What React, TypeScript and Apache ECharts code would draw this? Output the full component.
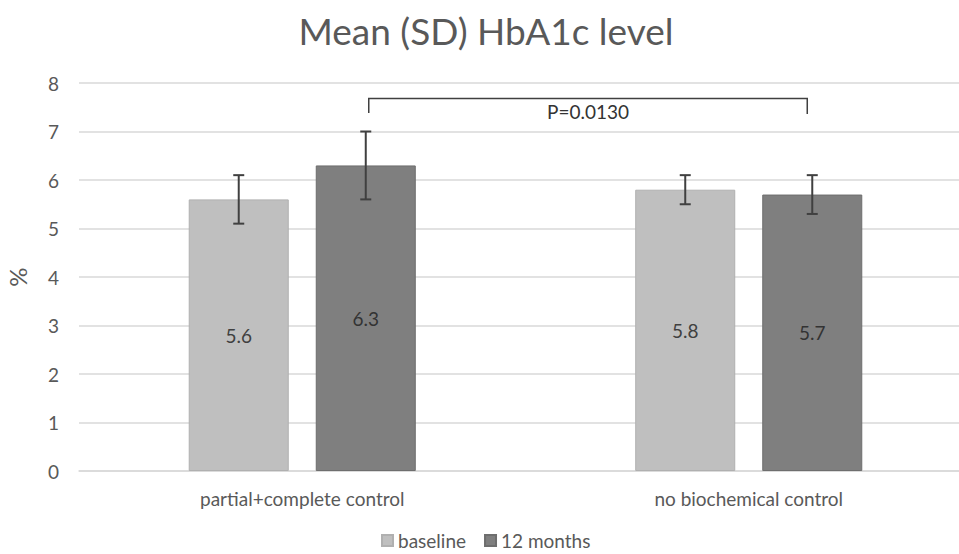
import React, { useEffect, useRef } from "react";
import * as echarts from "echarts";

const categories = ["partial+complete control", "no biochemical control"];
const baselineMeans = [5.6, 5.8];
const baselineSD = [0.5, 0.3];
const monthsMeans = [6.3, 5.7];
const monthsSD = [0.7, 0.4];
const seriesNames = ["baseline", "12 months"];
const yTicks = { min: 0, max: 8, interval: 1 };
// bracket: from group 0 to group 1 (12 months bars), top value, leg bottom value
const bracket = { from: 0, to: 1, top: 7.68, bottom: 7.38, label: "P=0.0130" };

const FONT = "Lato, 'Open Sans', sans-serif";
const BAR_W = 0.224; // fraction of band
const GAP = 0.27; // fraction of bar width
const OFFSET = (BAR_W * (1 + GAP)) / 2; // fraction of band

function errorSeries(means: number[], sds: number[], sign: number) {
  return {
    type: "custom",
    silent: true,
    z: 5,
    data: means.map((m, i) => [i, m - sds[i], m + sds[i]]),
    renderItem: (params: any, api: any) => {
      const band = api.size([1, 0])[0];
      const dx = sign * OFFSET * band;
      const lo = api.coord([api.value(0), api.value(1)]);
      const hi = api.coord([api.value(0), api.value(2)]);
      const x = lo[0] + dx;
      const cap = 5.5;
      const style = { stroke: "#404040", lineWidth: 2, fill: "none" };
      return {
        type: "group",
        children: [
          { type: "line", shape: { x1: x, y1: lo[1], x2: x, y2: hi[1] }, style },
          { type: "line", shape: { x1: x - cap, y1: lo[1], x2: x + cap, y2: lo[1] }, style },
          { type: "line", shape: { x1: x - cap, y1: hi[1], x2: x + cap, y2: hi[1] }, style },
        ],
      };
    },
  };
}

export default function App() {
  const ref = useRef<HTMLDivElement>(null);
  useEffect(() => {
    document.body.style.margin = "0";
    const chart = echarts.init(ref.current!, null, { renderer: "svg" });
    chart.setOption({
      animation: false,
      backgroundColor: "#ffffff",
      textStyle: { fontFamily: FONT },
      title: {
        text: "Mean (SD) HbA1c level",
        left: 481,
        top: 7,
        textAlign: "center",
        textStyle: { fontFamily: FONT, fontSize: 37, fontWeight: "normal", color: "#595959" },
      },
      legend: {
        data: seriesNames,
        top: 531,
        left: 381,
        padding: 0,
        icon: "rect",
        itemWidth: 11,
        itemHeight: 11,
        itemGap: 18,
        textStyle: { fontFamily: FONT, fontSize: 19, lineHeight: 18, color: "#595959" },
      },
      grid: {
        left: 79,
        width: 893,
        top: 83,
        bottom: 83,
        containLabel: false,
        outerBoundsMode: "none",
      },
      xAxis: {
        type: "category",
        data: categories,
        axisLine: { show: true, lineStyle: { color: "#d9d9d9", width: 1.5 } },
        axisTick: { show: false },
        axisLabel: { fontFamily: FONT, fontSize: 19, color: "#595959", margin: 18 },
      },
      yAxis: {
        type: "value",
        min: yTicks.min,
        max: yTicks.max,
        interval: yTicks.interval,
        name: "%",
        nameLocation: "middle",
        nameGap: 50,
        nameTextStyle: { fontFamily: FONT, fontSize: 24, color: "#595959" },
        axisLine: { show: false },
        axisTick: { show: false },
        axisLabel: { fontFamily: FONT, fontSize: 19, color: "#595959", margin: 20 },
        splitLine: { lineStyle: { color: "#d9d9d9", width: 1.5 } },
      },
      series: [
        {
          name: seriesNames[0],
          type: "bar",
          data: baselineMeans,
          barWidth: BAR_W * 100 + "%",
          barGap: GAP * 100 + "%",
          itemStyle: { color: "#bfbfbf", borderColor: "#b0b0b0", borderWidth: 1 },
          label: {
            show: true,
            position: "inside",
            fontFamily: FONT,
            fontSize: 19,
            color: "#404040",
            formatter: (p: any) => p.value.toFixed(1),
          },
        },
        {
          name: seriesNames[1],
          type: "bar",
          data: monthsMeans,
          barWidth: BAR_W * 100 + "%",
          barGap: GAP * 100 + "%",
          itemStyle: { color: "#7f7f7f", borderColor: "#6e6e6e", borderWidth: 1 },
          label: {
            show: true,
            position: "inside",
            fontFamily: FONT,
            fontSize: 19,
            color: "#333333",
            formatter: (p: any) => p.value.toFixed(1),
          },
        },
        errorSeries(baselineMeans, baselineSD, -1),
        errorSeries(monthsMeans, monthsSD, 1),
        {
          type: "custom",
          silent: true,
          z: 6,
          data: [[bracket.from, bracket.to, bracket.top, bracket.bottom]],
          renderItem: (params: any, api: any) => {
            const band = api.size([1, 0])[0];
            const dx = OFFSET * band;
            const a = api.coord([api.value(0), api.value(2)]);
            const b = api.coord([api.value(1), api.value(2)]);
            const yb = api.coord([api.value(0), api.value(3)])[1];
            const x1 = a[0] + dx + 3;
            const xr = b[0] + dx - 5;
            return {
              type: "group",
              children: [
                {
                  type: "polyline",
                  shape: { points: [[x1, yb], [x1, a[1]], [xr, a[1]], [xr, yb + 1]] },
                  style: { stroke: "#404040", lineWidth: 1.5, fill: "none" },
                },
                {
                  type: "text",
                  x: (x1 + xr) / 2,
                  y: a[1] + 13,
                  style: {
                    text: bracket.label,
                    fontFamily: FONT,
                    fontSize: 19,
                    fill: "#333333",
                    align: "center",
                    verticalAlign: "middle",
                  },
                },
              ],
            };
          },
        },
      ],
    });
    return () => chart.dispose();
  }, []);
  return <div ref={ref} style={{ width: 959, height: 554 }} />;
}
